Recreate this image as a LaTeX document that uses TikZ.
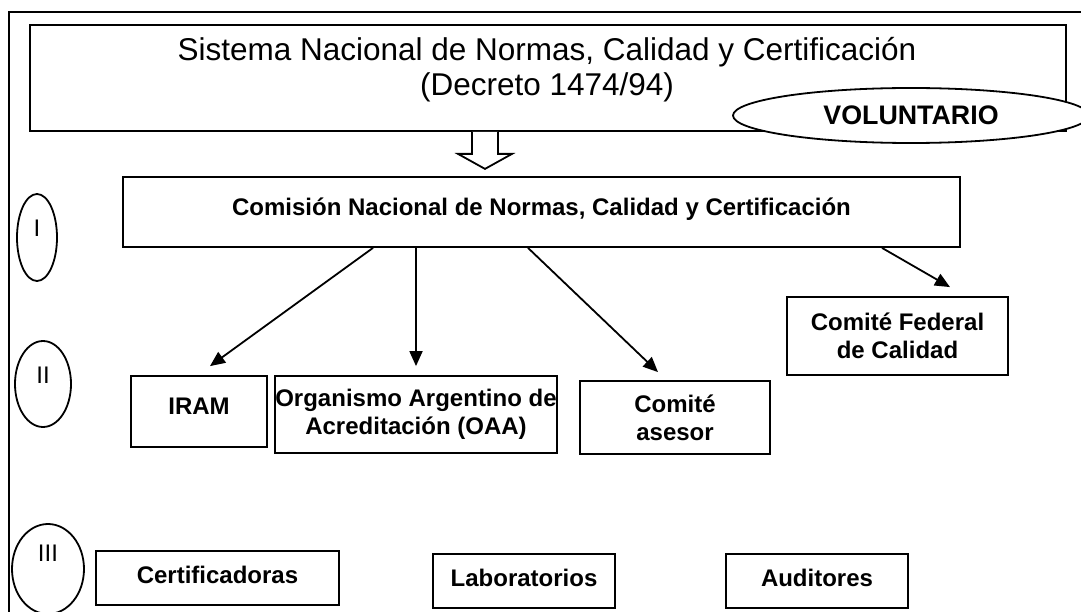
\documentclass[tikz,border=0pt]{standalone}
\usepackage{fontspec}
\setmainfont{Liberation Sans}
\usetikzlibrary{shapes.geometric,arrows.meta,calc}
\begin{document}
\begin{tikzpicture}[x=1pt,y=-1pt,
  lw/.style={line width=1.8pt},
  bx/.style={draw=black, lw, rectangle, inner sep=0pt, font=\fontsize{24}{28}\selectfont\bfseries},
  one/.style={text height=17pt, text depth=6pt},
  two/.style={align=center},
  ov/.style={draw=black, lw, ellipse, inner sep=0pt, font=\fontsize{24}{28}\selectfont},
  arr/.style={lw, -{Triangle[length=15pt,width=13pt]}},
]
\path[use as bounding box] (0,0) rectangle (1081,612);
\clip (0,0) rectangle (1081,612);
\fill[white] (0,0) rectangle (1081,612);

% outer frame (only top and left edges visible)
\draw[lw] (9,620) -- (9,12) -- (1090,12);

% top box
\node[draw=black, lw, rectangle, inner sep=0pt, minimum width=1036pt, minimum height=106pt] (topbox) at (548,78) {};
\node[font=\fontsize{31.5}{35}\selectfont, align=center, inner sep=0pt] (title) at (547,70)
  {Sistema Nacional de Normas, Calidad y Certificación\\(Decreto 1474/94)};

% block arrow
\draw[lw, fill=white, line join=miter] ([xshift=-76pt]topbox.south) -- ++(0,22) -- ++(-14,0) -- ++(27,15) -- ++(27,-15) -- ++(-14,0) -- ++(0,-22);

% VOLUNTARIO
\node[ov, fill=white, minimum width=356pt, minimum height=55pt, font=\fontsize{26.8}{30}\selectfont\bfseries] (vol) at (911,115.5) {VOLUNTARIO};

% commission
\node[bx, one, text depth=10pt, minimum width=837pt, minimum height=70pt] (com) at (541.5,212) {Comisión Nacional de Normas, Calidad y Certificación};

% roman numerals
\node[ov, minimum width=40pt, minimum height=87pt, text height=17pt, text depth=19pt] (r1) at (37,237.5) {I};
\node[ov, minimum width=56pt, minimum height=86pt, text height=17pt, text depth=19pt] (r2) at (43,384) {II};
\node[ov, minimum width=72pt, minimum height=90pt, text height=17pt, text depth=33pt] (r3) at (48,569) {III};

% level II
\node[bx, one, text depth=12pt, minimum width=136pt, minimum height=71pt] (iram) at (199,411.5) {IRAM};
\node[bx, two, minimum width=282pt, minimum height=77pt] (oaa) at (416,414.5) {Organismo Argentino de\\Acreditación (OAA)};
\node[bx, two, minimum width=190pt, minimum height=73pt] (ases) at (675,417.5) {Comité\\asesor};
\node[bx, two, minimum width=221pt, minimum height=78pt] (fed) at (897.5,336) {Comité Federal\\de Calidad};

% level III
\node[bx, one, minimum width=243pt, minimum height=54pt] (cert) at (217.5,578) {Certificadoras};
\node[bx, one, minimum width=182pt, minimum height=54pt] (lab) at (524,581) {Laboratorios};
\node[bx, one, minimum width=182pt, minimum height=54pt] (aud) at (817,581) {Auditores};

% arrows
\draw[arr] ([xshift=-168.5pt]com.south) -- ([xshift=11pt,yshift=9pt]iram.north);
\draw[arr] ([xshift=-125.5pt]com.south) -- ([yshift=9pt]oaa.north);
\draw[arr] ([xshift=-13.5pt]com.south) -- ([xshift=-17pt,yshift=8pt]ases.north);
\draw[arr] ([xshift=340.5pt]com.south) -- ([xshift=52.5pt,yshift=9pt]fed.north);
\end{tikzpicture}
\end{document}
